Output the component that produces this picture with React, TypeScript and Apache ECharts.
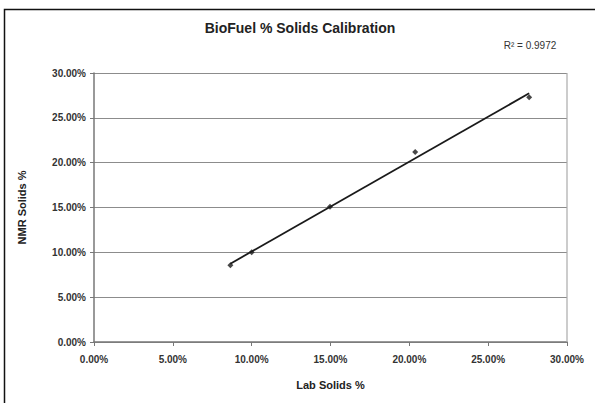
import React, { useEffect, useRef } from "react";
import * as echarts from "echarts";

const labSolids = [8.65, 10.0, 14.97, 20.37, 27.6];
const nmrSolids = [8.55, 10.0, 15.07, 21.2, 27.3];
const titleText = "BioFuel % Solids Calibration";
const rSquaredText = "R² = 0.9972";
const xAxisName = "Lab Solids %";
const yAxisName = "NMR Solids %";

function linearFit(xs: number[], ys: number[]) {
  const n = xs.length;
  const mx = xs.reduce((a, b) => a + b, 0) / n;
  const my = ys.reduce((a, b) => a + b, 0) / n;
  let sxy = 0, sxx = 0;
  for (let i = 0; i < n; i++) {
    sxy += (xs[i] - mx) * (ys[i] - my);
    sxx += (xs[i] - mx) * (xs[i] - mx);
  }
  const slope = sxy / sxx;
  return { slope, intercept: my - slope * mx };
}

export default function App() {
  const ref = useRef<HTMLDivElement>(null);
  useEffect(() => {
    if (!ref.current) return;
    const chart = echarts.init(ref.current, null, { renderer: "svg" });
    const fit = linearFit(labSolids, nmrSolids);
    const xMin = Math.min(...labSolids);
    const xMax = Math.max(...labSolids);
    const trend = [
      [xMin, fit.slope * xMin + fit.intercept],
      [xMax, fit.slope * xMax + fit.intercept],
    ];
    const font = "'Liberation Sans', Arial, sans-serif";
    const fmt = (v: number) => v.toFixed(2) + "%";
    chart.setOption({
      animation: false,
      backgroundColor: "#ffffff",
      graphic: [
        {
          type: "rect",
          shape: { x: 4.5, y: 9.5, width: 620, height: 420 },
          style: { fill: "none", stroke: "#111", lineWidth: 1.5 },
          z: -1,
        },
        {
          type: "text",
          x: 300,
          y: 28,
          style: {
            text: titleText,
            font: `bold 14px ${font}`,
            fill: "#222",
            align: "center",
            verticalAlign: "middle",
          },
        },
        {
          type: "text",
          x: 530,
          y: 45,
          style: {
            text: rSquaredText,
            font: `10px ${font}`,
            fill: "#333",
            align: "center",
            verticalAlign: "middle",
          },
        },
      ],
      grid: { left: 94, right: 28, top: 73, bottom: 61 },
      xAxis: {
        type: "value",
        min: 0,
        max: 30,
        interval: 5,
        name: xAxisName,
        nameLocation: "middle",
        nameGap: 37,
        nameTextStyle: { fontFamily: font, fontWeight: "bold", fontSize: 11, color: "#222" },
        axisLine: { show: true, lineStyle: { color: "#777", width: 1.5 } },
        axisTick: { show: true, length: 4, lineStyle: { color: "#777" } },
        axisLabel: {
          formatter: fmt,
          fontFamily: font,
          fontWeight: "bold",
          fontSize: 10,
          color: "#333",
          margin: 12,
        },
        splitLine: { show: false },
      },
      yAxis: {
        type: "value",
        min: 0,
        max: 30,
        interval: 5,
        name: yAxisName,
        nameLocation: "middle",
        nameGap: 67,
        nameRotate: 90,
        nameTextStyle: { fontFamily: font, fontWeight: "bold", fontSize: 11, color: "#222" },
        axisLine: { show: true, lineStyle: { color: "#777", width: 1.5 } },
        axisTick: { show: true, length: 4, lineStyle: { color: "#777" } },
        axisLabel: {
          formatter: fmt,
          fontFamily: font,
          fontWeight: "bold",
          fontSize: 10,
          color: "#333",
          margin: 8,
        },
        splitLine: { show: true, lineStyle: { color: "#8c8c8c", width: 1.2 } },
      },
      series: [
        {
          type: "line",
          data: trend,
          symbol: "none",
          lineStyle: { color: "#1a1a1a", width: 1.8 },
          z: 2,
        },
        {
          type: "scatter",
          data: labSolids.map((x, i) => [x, nmrSolids[i]]),
          symbol: "diamond",
          symbolSize: 6,
          itemStyle: { color: "#1a1a1a" },
          z: 3,
        },
        {
          type: "line",
          data: [[30, 0], [30, 30]],
          symbol: "none",
          lineStyle: { color: "#aaa", width: 1.2 },
          silent: true,
        },
      ],
    });
    return () => chart.dispose();
  }, []);
  return (
    <div
      ref={ref}
      style={{ position: "fixed", left: 0, top: 0, width: 595, height: 403 }}
    />
  );
}
